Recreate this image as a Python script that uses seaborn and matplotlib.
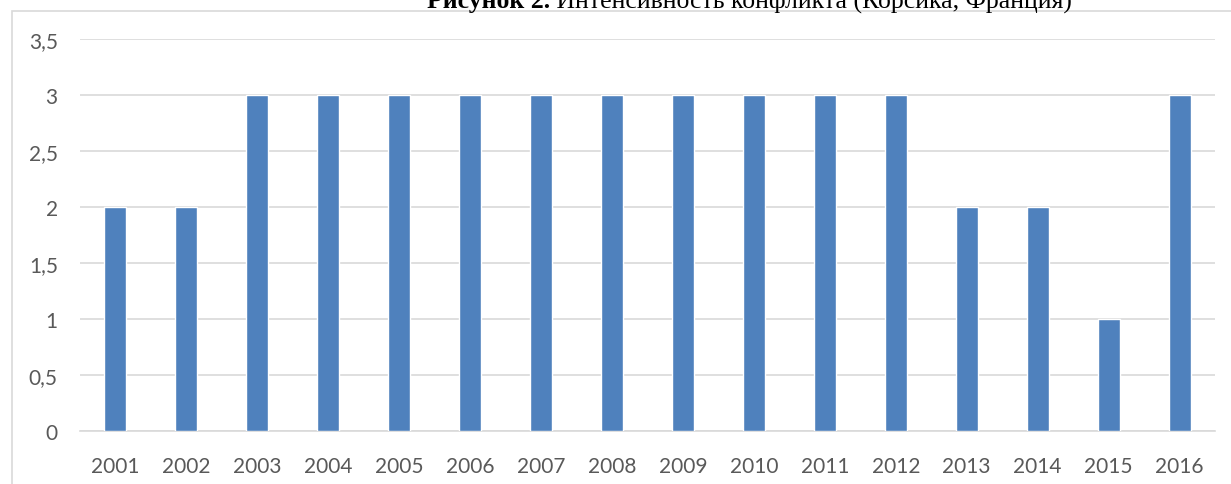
import matplotlib
matplotlib.use("Agg")
import matplotlib.pyplot as plt
import matplotlib.ticker as mticker
from matplotlib.patches import Rectangle
import seaborn as sns
import pandas as pd

years = [str(y) for y in range(2001, 2017)]
values = [2, 2, 3, 3, 3, 3, 3, 3, 3, 3, 3, 3, 2, 2, 1, 3]
yticks = [0, 0.5, 1, 1.5, 2, 2.5, 3, 3.5]
title_bold = "Рисунок 2."
title_rest = " Интенсивность конфликта (Корсика, Франция)"

sns.set_theme(style="white")
plt.rcParams['font.family'] = ['Lato', 'DejaVu Sans']

W, H = 1231, 485
fig = plt.figure(figsize=(W / 100, H / 100), dpi=100)
ax = fig.add_axes([80 / W, 1 - 432 / H, (1215 - 80) / W, (432 - 40) / H])

df = pd.DataFrame({"year": years, "value": values})
sns.barplot(data=df, x="year", y="value", color="#4F81BD", saturation=1,
            width=0.31, ax=ax, zorder=3)

ax.set_ylim(0, 3.5)
ax.set_xlim(-0.5, len(years) - 0.5)
ax.set_yticks(yticks)
ax.yaxis.set_major_formatter(mticker.FuncFormatter(
    lambda v, p: (f"{v:g}").replace(".", ",")))
ax.grid(axis="y", color="#D9D9D9", linewidth=1.2, zorder=0)
ax.set_xlabel("")
ax.set_ylabel("")
for s in ["top", "right", "left"]:
    ax.spines[s].set_visible(False)
ax.spines["bottom"].set_color("#D9D9D9")
ax.spines["bottom"].set_linewidth(1.2)
ax.tick_params(axis="both", length=0, labelsize=15, labelcolor="#595959")
ax.tick_params(axis="y", pad=16)
ax.tick_params(axis="x", pad=18)

# chart border
fig.patches.append(Rectangle((12 / W, -0.05), 1.1, 1 - 12 / H + 0.05,
                             transform=fig.transFigure, fill=False,
                             edgecolor="#D9D9D9", linewidth=1.2))

# title (partially clipped at top, as in the reference)
fig.canvas.draw()
r = fig.canvas.get_renderer()
t1 = fig.text(427 / W, 1 - 8 / H, title_bold, family="Liberation Serif",
              fontweight="bold", fontsize=18.5, ha="left", va="baseline",
              color="black")
bb = t1.get_window_extent(r)
fig.text(bb.x1 / W, 1 - 8 / H, title_rest, family="Liberation Serif",
         fontsize=18.5, ha="left", va="baseline", color="black")

fig.savefig("out.png", dpi=100)
